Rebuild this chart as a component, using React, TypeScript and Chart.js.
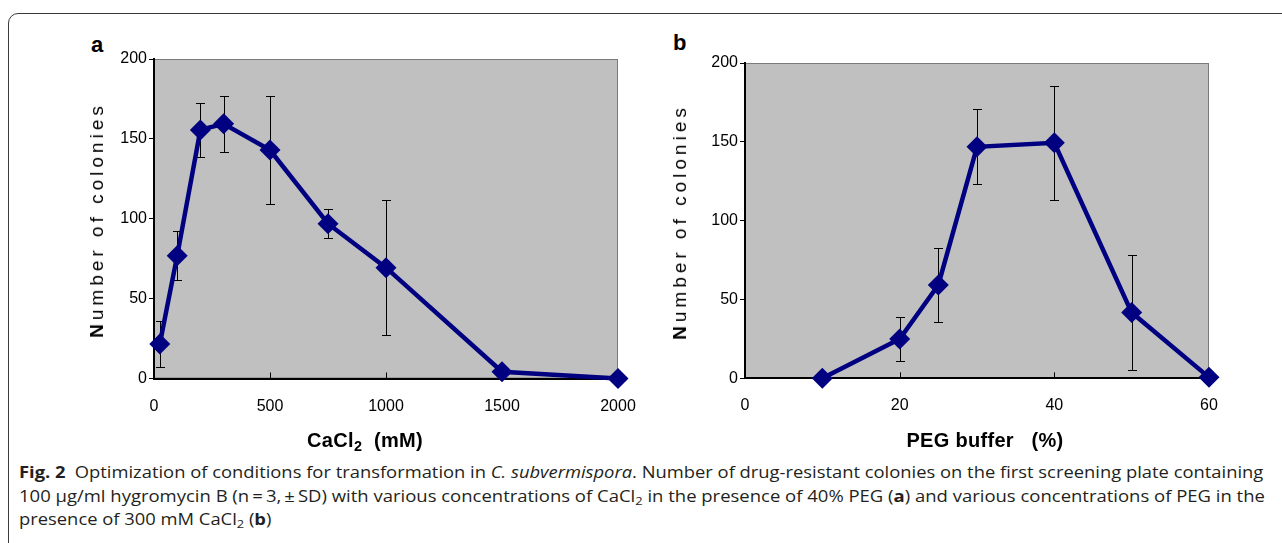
import React, { useEffect, useLayoutEffect, useRef } from "react";
import { Chart, registerables } from "chart.js";

Chart.register(...registerables);

// ---------- data ----------
// Panel a: CaCl2 concentration (mM) vs number of colonies (mean ± SD)
const CACL2_MM = [25, 100, 200, 300, 500, 750, 1000, 1500, 2000];
const CACL2_COLONIES = [21.6, 76.9, 155.6, 159.4, 143, 96.9, 69.4, 4.2, 0];
const CACL2_SD = [14.4, 15.4, 16.9, 17.5, 34, 9, 42.1, 0, 0];

// Panel b: PEG buffer (%) vs number of colonies (mean ± SD)
const PEG_PCT = [10, 20, 25, 30, 40, 50, 60];
const PEG_COLONIES = [0, 24.9, 59.2, 146.8, 149.4, 41.7, 0.6];
const PEG_SD = [0, 14.1, 23.5, 23.8, 36.2, 36.4, 0];

// tick labels
const Y_TICKS = [0, 50, 100, 150, 200];
const CACL2_TICKS = [0, 500, 1000, 1500, 2000];
const PEG_TICKS = [0, 20, 40, 60];

const NAVY = "#000080";
const TICK_FONT = '"Liberation Sans", Arial, sans-serif';

function makeDecorPlugin(sds: number[], xTicks: number[]) {
  return {
    id: "panelDecor",
    beforeDraw(chart: any) {
      const { ctx, chartArea: a } = chart;
      ctx.save();
      ctx.fillStyle = "#c0c0c0";
      ctx.fillRect(a.left, a.top, a.right - a.left, a.bottom - a.top);
      ctx.strokeStyle = "#7a7a7a";
      ctx.lineWidth = 1;
      ctx.strokeRect(a.left + 0.5, a.top + 0.5, a.right - a.left - 1, a.bottom - a.top - 1);
      ctx.restore();
    },
    beforeDatasetsDraw(chart: any) {
      const { ctx, chartArea: a, scales } = chart;
      const xs = scales.x;
      const ys = scales.y;
      ctx.save();
      ctx.strokeStyle = "#000";
      ctx.lineWidth = 1;
      // inward x tick marks
      for (const v of xTicks) {
        if (v === xs.min || v === xs.max) continue;
        const px = Math.round(xs.getPixelForValue(v)) + 0.5;
        ctx.beginPath();
        ctx.moveTo(px, a.bottom);
        ctx.lineTo(px, a.bottom - 6);
        ctx.stroke();
      }
      // error bars
      const pts = chart.data.datasets[0].data as { x: number; y: number }[];
      pts.forEach((p, i) => {
        const sd = sds[i];
        if (!sd) return;
        const px = Math.round(xs.getPixelForValue(p.x)) + 0.5;
        const yTop = Math.round(ys.getPixelForValue(p.y + sd)) + 0.5;
        const yBot = Math.round(ys.getPixelForValue(p.y - sd)) + 0.5;
        ctx.beginPath();
        ctx.moveTo(px, yTop);
        ctx.lineTo(px, yBot);
        ctx.moveTo(px - 4.5, yTop);
        ctx.lineTo(px + 4.5, yTop);
        ctx.moveTo(px - 4.5, yBot);
        ctx.lineTo(px + 4.5, yBot);
        ctx.stroke();
      });
      ctx.restore();
    },
  };
}

type PanelProps = {
  left: number;
  width: number;
  height: number;
  xs: number[];
  ys: number[];
  sds: number[];
  xTicks: number[];
  padding: { left: number; right: number; top: number; bottom: number };
};

function Panel({ left, width, height, xs, ys, sds, xTicks, padding }: PanelProps) {
  const ref = useRef<HTMLCanvasElement>(null);
  useEffect(() => {
    const chart = new Chart(ref.current as HTMLCanvasElement, {
      type: "line",
      data: {
        datasets: [
          {
            data: xs.map((x, i) => ({ x, y: ys[i] })),
            borderColor: NAVY,
            backgroundColor: NAVY,
            borderWidth: 4.5,
            pointStyle: "rectRot",
            pointRadius: 10.5,
            pointHoverRadius: 10.5,
            pointBackgroundColor: NAVY,
            pointBorderWidth: 0,
            tension: 0,
            clip: false as any,
          },
        ],
      },
      options: {
        responsive: false,
        animation: false,
        devicePixelRatio: 1,
        events: [],
        layout: { padding },
        plugins: { legend: { display: false }, tooltip: { enabled: false } },
        scales: {
          x: {
            type: "linear",
            min: xTicks[0],
            max: xTicks[xTicks.length - 1],
            afterBuildTicks: (s: any) => {
              s.ticks = xTicks.map((v) => ({ value: v }));
            },
            afterFit: (s: any) => {
              s.height = 40;
            },
            grid: { display: true, drawOnChartArea: false, drawTicks: false },
            border: { display: true, color: "#000", width: 2 },
            ticks: {
              color: "#000",
              font: { family: TICK_FONT, size: 16 },
              padding: 18,
              maxRotation: 0,
              autoSkip: false,
              callback: (v: any) => String(v),
            },
          },
          y: {
            type: "linear",
            min: Y_TICKS[0],
            max: Y_TICKS[Y_TICKS.length - 1],
            afterBuildTicks: (s: any) => {
              s.ticks = Y_TICKS.map((v) => ({ value: v }));
            },
            afterFit: (s: any) => {
              s.width = 50;
            },
            grid: { drawOnChartArea: false, drawTicks: true, tickLength: 5, color: "#000", lineWidth: 1 },
            border: { display: true, color: "#000", width: 2 },
            ticks: {
              color: "#000",
              font: { family: TICK_FONT, size: 16 },
              padding: 2,
              autoSkip: false,
              callback: (v: any) => String(v),
            },
          },
        },
      },
      plugins: [makeDecorPlugin(sds, xTicks)],
    } as any);
    return () => chart.destroy();
  }, []);
  return (
    <canvas
      ref={ref}
      width={width}
      height={height}
      style={{ position: "absolute", left, top: 0, width, height }}
    />
  );
}

const axisTitleFont = '"Liberation Sans", Arial, sans-serif';

function YTitle({ cx, cy }: { cx: number; cy: number }) {
  return (
    <div
      style={{
        position: "absolute",
        left: cx,
        top: cy,
        transform: "translate(-50%, -50%) rotate(-90deg)",
        whiteSpace: "nowrap",
        fontFamily: axisTitleFont,
        fontSize: 19,
        lineHeight: "20px",
        letterSpacing: "4px",
        color: "#000",
      }}
    >
      <b>N</b>umber of colonies
    </div>
  );
}

function XTitle({ cx, cy, children }: { cx: number; cy: number; children: React.ReactNode }) {
  return (
    <div
      style={{
        position: "absolute",
        left: cx,
        top: cy,
        transform: "translate(-50%, -50%)",
        whiteSpace: "pre",
        fontFamily: axisTitleFont,
        fontWeight: "bold",
        fontSize: 20,
        lineHeight: "22px",
        letterSpacing: "0.3px",
        color: "#000",
      }}
    >
      {children}
    </div>
  );
}

const capFont = '"Open Sans", "Noto Sans", sans-serif';

function Caption() {
  const r1 = useRef<HTMLSpanElement>(null);
  const r2 = useRef<HTMLSpanElement>(null);
  const r3 = useRef<HTMLSpanElement>(null);
  useLayoutEffect(() => {
    const e1 = r1.current!, e2 = r2.current!, e3 = r3.current!;
    const s1 = 1244 / e1.offsetWidth;
    const s2 = 1246 / e2.offsetWidth;
    e1.style.transform = `scaleX(${s1})`;
    e2.style.transform = `scaleX(${s2})`;
    e3.style.transform = `scaleX(${s1})`;
  }, []);
  const lineStyle = (top: number): React.CSSProperties => ({
    position: "absolute",
    left: 19,
    top,
    display: "inline-block",
    whiteSpace: "nowrap",
    fontFamily: capFont,
    fontSize: 15.5,
    lineHeight: "20px",
    color: "#231f20",
    transformOrigin: "0 0",
  });
  const sub: React.CSSProperties = { fontSize: "0.7em", verticalAlign: "-0.3em", lineHeight: 0 };
  return (
    <>
      <span ref={r1} style={lineStyle(462)}>
        <b>Fig. 2</b>
        {"\u2002"}Optimization of conditions for transformation in <i>C. subvermispora</i>. Number of drug-resistant
        colonies on the first screening plate containing
      </span>
      <span ref={r2} style={lineStyle(486)}>
        100 µg/ml hygromycin B (n{"\u2009"}={"\u2009"}3,{"\u2009"}±{"\u2009"}SD) with various concentrations of CaCl
        <span style={sub}>2</span> in the presence of 40% PEG (<b>a</b>) and various concentrations of PEG in the
      </span>
      <span ref={r3} style={lineStyle(509)}>
        presence of 300 mM CaCl<span style={sub}>2</span> (<b>b</b>)
      </span>
    </>
  );
}

export default function App() {
  return (
    <div
      style={{
        position: "absolute",
        left: 0,
        top: 0,
        width: 1282,
        height: 543,
        overflow: "hidden",
        background: "#fff",
      }}
    >
      {/* figure frame */}
      <div
        style={{
          position: "absolute",
          left: 8,
          top: 13,
          width: 1400,
          height: 700,
          border: "1px solid #3a3a3a",
          borderRadius: 10,
          boxSizing: "border-box",
        }}
      />
      {/* panel letters */}
      <div style={{ position: "absolute", left: 91, top: 34, font: `bold 22px ${axisTitleFont}`, lineHeight: "22px" }}>a</div>
      <div style={{ position: "absolute", left: 673, top: 32, font: `bold 22px ${axisTitleFont}`, lineHeight: "22px" }}>b</div>

      <Panel
        left={0}
        width={660}
        height={460}
        xs={CACL2_MM}
        ys={CACL2_COLONIES}
        sds={CACL2_SD}
        xTicks={CACL2_TICKS}
        padding={{ left: 104, right: 42, top: 59, bottom: 41.5 }}
      />
      <Panel
        left={640}
        width={642}
        height={460}
        xs={PEG_PCT}
        ys={PEG_COLONIES}
        sds={PEG_SD}
        xTicks={PEG_TICKS}
        padding={{ left: 55, right: 73, top: 63, bottom: 41.7 }}
      />

      <YTitle cx={97} cy={220} />
      <YTitle cx={680} cy={222} />
      <XTitle cx={365} cy={440}>
        CaCl<span style={{ fontSize: "0.72em", verticalAlign: "-0.3em", lineHeight: 0 }}>2</span>
        {"  (mM)"}
      </XTitle>
      <XTitle cx={985} cy={440}>{"PEG buffer   (%)"}</XTitle>

      <Caption />
    </div>
  );
}
